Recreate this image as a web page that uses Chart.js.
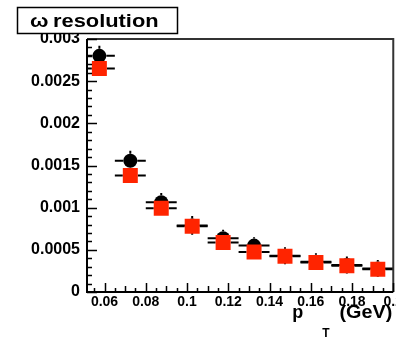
<!DOCTYPE html>
<html>
<head>
<meta charset="utf-8">
<script src="https://cdn.jsdelivr.net/npm/chart.js@4.4.0/dist/chart.umd.min.js"></script>
<style>
  html, body { margin: 0; padding: 0; background: #fff; }
  /* the canvas runs a little past the right edge so the last x label gets cut there */
  #wrap { width: 396px; height: 339px; overflow: hidden; }
  #resChart { display: block; }
</style>
</head>
<body>
<div id="wrap"><canvas id="resChart" width="405" height="339"></canvas></div>
<script>
// pT bin centres (GeV), bins are 0.015 wide
const ptBins = [0.0575, 0.0725, 0.0875, 0.1025, 0.1175, 0.1325, 0.1475, 0.1625, 0.1775, 0.1925];
const ptHalfWidth = 0.0075;

// omega resolution, circles (black) and squares (red)
const resCircles    = [0.00280, 0.001556, 0.001065, 0.00079, 0.000638, 0.00055, 0.00043, 0.00036, 0.00032, 0.00028];
const resCirclesErr = [0.00012, 0.00012, 0.00011, 0.00011, 0.00010, 0.00010, 0.00010, 0.00010, 0.00010, 0.00010];
const resSquares    = [0.00265, 0.00138, 0.000994, 0.00078, 0.000586, 0.000475, 0.000425, 0.00035, 0.000312, 0.00027];
const resSquaresErr = [0.00008, 0.00008, 0.00008, 0.00008, 0.00008, 0.00008, 0.00008, 0.00008, 0.00008, 0.00008];

const xTickValues = [0.06, 0.08, 0.1, 0.12, 0.14, 0.16, 0.18, 0.2];
const yTickValues = [0, 0.0005, 0.001, 0.0015, 0.002, 0.0025, 0.003];

const FONT = "'Liberation Sans', Arial, Helvetica, sans-serif";

const toPoints = (ys) => ptBins.map((x, i) => ({ x: x, y: ys[i] }));

// horizontal (bin width) and vertical error bars, drawn under each dataset's markers
const errorBars = {
  id: 'errorBars',
  beforeDatasetDraw(chart, args) {
    const ds = chart.data.datasets[args.index];
    const { ctx, chartArea: ca, scales: { x: xs, y: ys } } = chart;
    const half = ds.markerHalf;
    ctx.save();
    ctx.beginPath();
    ctx.rect(ca.left, ca.top, ca.right - ca.left, ca.bottom - ca.top);
    ctx.clip();
    ctx.strokeStyle = '#000';
    ctx.lineWidth = 2;
    ds.data.forEach((p, i) => {
      const px = xs.getPixelForValue(p.x);
      const py = ys.getPixelForValue(p.y);
      const x0 = xs.getPixelForValue(p.x - ptHalfWidth);
      const x1 = xs.getPixelForValue(p.x + ptHalfWidth);
      const yHi = ys.getPixelForValue(p.y + ds.yErr[i]);
      const yLo = ys.getPixelForValue(p.y - ds.yErr[i]);
      ctx.beginPath();
      ctx.moveTo(x0, py); ctx.lineTo(px - half, py);
      ctx.moveTo(px + half, py); ctx.lineTo(x1, py);
      if (py - yHi > half) {
        ctx.moveTo(px, py - half); ctx.lineTo(px, yHi);
        ctx.moveTo(px, py + half); ctx.lineTo(px, yLo);
      }
      ctx.stroke();
    });
    ctx.restore();
  }
};

// frame with inward tick marks
const frameTicks = {
  id: 'frameTicks',
  afterDatasetsDraw(chart) {
    const { ctx, chartArea: ca, scales: { x, y } } = chart;
    ctx.save();
    ctx.lineWidth = 2;
    ctx.strokeStyle = '#333';
    ctx.beginPath();
    ctx.moveTo(ca.left, ca.top); ctx.lineTo(ca.right, ca.top); ctx.lineTo(ca.right, ca.bottom);
    ctx.stroke();
    ctx.strokeStyle = '#000';
    ctx.beginPath();
    ctx.moveTo(ca.left, ca.top); ctx.lineTo(ca.left, ca.bottom); ctx.lineTo(ca.right, ca.bottom);
    ctx.stroke();

    ctx.lineWidth = 1.5;
    ctx.beginPath();
    for (let k = 0; k <= 30; k++) {
      const py = Math.round(y.getPixelForValue(k * 0.0001)) + 0.5;
      const len = k % 5 === 0 ? 10 : 5;
      ctx.moveTo(ca.left, py); ctx.lineTo(ca.left + len, py);
    }
    for (let k = 11; k <= 40; k++) {
      const px = Math.round(x.getPixelForValue(k * 0.005)) + 0.5;
      const len = k % 4 === 0 ? 9 : (k % 2 === 0 ? 6 : 4);
      ctx.moveTo(px, ca.bottom); ctx.lineTo(px, ca.bottom - len);
    }
    ctx.stroke();
    ctx.restore();
  }
};

// title box and x axis title
const titles = {
  id: 'titles',
  afterDraw(chart) {
    const { ctx, chartArea: ca } = chart;
    ctx.save();
    ctx.fillStyle = '#fff';
    ctx.fillRect(17, 7, 161, 27);
    ctx.strokeStyle = '#000';
    ctx.lineWidth = 1.5;
    ctx.strokeRect(17.5, 7.5, 160, 26);

    ctx.fillStyle = '#000';
    ctx.textBaseline = 'alphabetic';
    ctx.textAlign = 'left';
    ctx.save();
    ctx.translate(30, 27);
    ctx.scale(1.15, 1);
    ctx.font = 'bold 19px ' + FONT;
    ctx.fillText('\u03c9', 0, 0);
    ctx.fillText('resolution', 20, 0);
    ctx.restore();

    ctx.font = 'bold 18px ' + FONT;
    ctx.fillText('p', ca.right - 101, 318);
    ctx.font = 'bold 12px ' + FONT;
    ctx.fillText('T', ca.right - 71, 337);
    ctx.textAlign = 'right';
    ctx.save();
    ctx.translate(ca.right - 1, 318);
    ctx.scale(1.1, 1);
    ctx.font = 'bold 18px ' + FONT;
    ctx.fillText('(GeV)', 0, 0);
    ctx.restore();
    ctx.restore();
  }
};

const ctx = document.getElementById('resChart').getContext('2d');
new Chart(ctx, {
  type: 'scatter',
  data: {
    datasets: [{
      label: 'squares',
      data: toPoints(resSquares),
      yErr: resSquaresErr,
      markerHalf: 7.5,
      pointStyle: 'rect',
      pointRadius: 10.6,
      backgroundColor: '#ff2400',
      borderWidth: 0,
      order: 1
    }, {
      label: 'circles',
      data: toPoints(resCircles),
      yErr: resCirclesErr,
      markerHalf: 7,
      pointStyle: 'circle',
      pointRadius: 7,
      backgroundColor: '#000',
      borderWidth: 0,
      order: 2
    }]
  },
  options: {
    responsive: false,
    animation: false,
    events: [],
    layout: { padding: { top: 39, right: 3, left: 0, bottom: 0 } },
    plugins: {
      legend: { display: false },
      tooltip: { enabled: false }
    },
    scales: {
      x: {
        type: 'linear',
        min: 0.0515,
        max: 0.2,
        border: { display: false },
        grid: { display: false, drawTicks: false },
        afterBuildTicks: (s) => { s.ticks = xTickValues.map(v => ({ value: v })); },
        afterFit: (s) => { s.height = 47; },
        ticks: {
          autoSkip: false,
          maxRotation: 0,
          padding: 2,
          color: '#000',
          font: { family: FONT, size: 14, weight: 'bold' },
          callback: (v) => String(v)
        }
      },
      y: {
        min: 0,
        max: 0.003,
        border: { display: false },
        grid: { display: false, drawTicks: false },
        afterBuildTicks: (s) => { s.ticks = yTickValues.map(v => ({ value: v })); },
        afterFit: (s) => { s.width = 87; },
        ticks: {
          autoSkip: false,
          padding: 7,
          color: '#000',
          font: { family: FONT, size: 16, weight: 'bold' },
          callback: (v) => String(v)
        }
      }
    }
  },
  plugins: [errorBars, frameTicks, titles]
});
</script>
</body>
</html>
